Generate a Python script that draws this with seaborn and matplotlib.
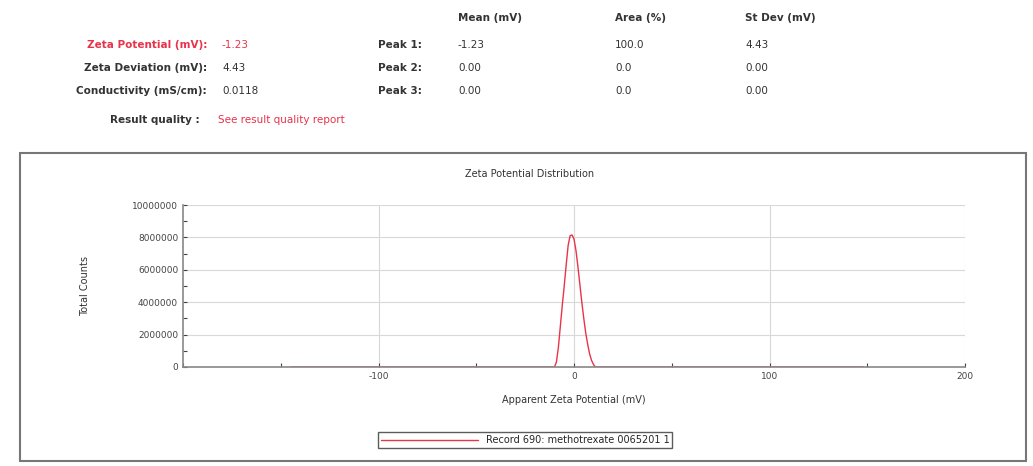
import numpy as np
import pandas as pd
import matplotlib
matplotlib.use("Agg")
import matplotlib.pyplot as plt
from matplotlib.patches import Rectangle
from matplotlib.ticker import MultipleLocator
import seaborn as sns

# zeta potential distribution (mV vs total counts)
zeta_mv = [-145, -11, -10, -9, -8, -7, -6, -5, -4, -3, -2, -1, 0, 1, 2, 3,
           4, 5, 6, 7, 8, 9, 10, 11, 12, 148]
counts = [0, 0, 0, 300000, 1200000, 2500000, 3800000, 5000000, 6300000,
          7500000, 8100000, 8150000, 7900000, 7200000, 6200000, 5100000,
          4000000, 3000000, 2100000, 1400000, 800000, 400000, 150000, 0, 0, 0]
record_name = "Record 690: methotrexate 0065201 1"

summary_labels = ["Zeta Potential (mV):", "Zeta Deviation (mV):", "Conductivity (mS/cm):"]
summary_values = ["-1.23", "4.43", "0.0118"]
peak_labels = ["Peak 1:", "Peak 2:", "Peak 3:"]
peak_cols = ["Mean (mV)", "Area (%)", "St Dev (mV)"]
peak_mean = ["-1.23", "0.00", "0.00"]
peak_area = ["100.0", "0.0", "0.0"]
peak_sd = ["4.43", "0.00", "0.00"]

sns.set_theme(style="whitegrid")
plt.rcParams["font.family"] = ["DejaVu Sans"]
plt.rcParams["axes.unicode_minus"] = False

red = "#e8334a"
W, H = 1033, 466
fig = plt.figure(figsize=(W / 100, H / 100), dpi=100, facecolor="white")

def fx(px):
    return px / W

def fy(py):
    return 1 - py / H

# header block
fs = 7.5
for i, (lab, val) in enumerate(zip(summary_labels, summary_values)):
    c = red if i == 0 else "#333333"
    y = fy(45 + 23 * i)
    fig.text(fx(207), y, lab, ha="right", va="center", fontsize=fs, color=c, weight="bold")
    fig.text(fx(222), y, val, ha="left", va="center", fontsize=fs, color=c)

fig.text(fx(200), fy(120), "Result quality :", ha="right", va="center", fontsize=fs,
         color="#333333", weight="bold")
fig.text(fx(218), fy(120), "See result quality report", ha="left", va="center",
         fontsize=fs, color=red)

col_x = [458, 615, 745]
for cx, name in zip(col_x, peak_cols):
    fig.text(fx(cx), fy(18), name, ha="left", va="center", fontsize=fs,
             color="#333333", weight="bold")
for i, lab in enumerate(peak_labels):
    y = fy(45 + 23 * i)
    fig.text(fx(378), y, lab, ha="left", va="center", fontsize=fs, color="#333333", weight="bold")
    for cx, v in zip(col_x, [peak_mean[i], peak_area[i], peak_sd[i]]):
        fig.text(fx(cx), y, v, ha="left", va="center", fontsize=fs, color="#333333")

# chart frame
fig.patches.append(Rectangle((fx(20), fy(461)), fx(1006), 308 / H,
                             transform=fig.transFigure, fill=False,
                             edgecolor="#777777", linewidth=1.5))
fig.text(fx(530), fy(174), "Zeta Potential Distribution", ha="center", va="center",
         fontsize=7, color="#333333")

ax = fig.add_axes([fx(183), fy(367), fx(965 - 183), (367 - 205) / H])
df = pd.DataFrame({"zeta": zeta_mv, "counts": counts})
sns.lineplot(data=df, x="zeta", y="counts", color=red, linewidth=1.0,
             label=record_name, ax=ax, legend=False)

ax.set_xlim(-200, 200)
ax.set_ylim(0, 10000000)
ax.set_xticks([-100, 0, 100, 200])
ax.set_yticks([0, 2000000, 4000000, 6000000, 8000000, 10000000])
ax.set_yticklabels(["0", "2000000", "4000000", "6000000", "8000000", "10000000"])
ax.xaxis.set_minor_locator(MultipleLocator(50))
ax.yaxis.set_minor_locator(MultipleLocator(1000000))
ax.grid(True, which="major", color="#d8d8d8", linewidth=0.8)
ax.tick_params(axis="both", which="both", direction="in", length=3, width=0.8,
               colors="#444444", labelsize=6.5, bottom=True, left=True)
for side in ["top", "right"]:
    ax.spines[side].set_visible(False)
for side in ["left", "bottom"]:
    ax.spines[side].set_color("#888888")
    ax.spines[side].set_linewidth(1.2)
ax.set_facecolor("white")

ax.set_xlabel("Apparent Zeta Potential (mV)", fontsize=7, color="#333333", labelpad=10)
ax.set_ylabel("Total Counts", fontsize=7, color="#333333", labelpad=30)

handles, labels = ax.get_legend_handles_labels()
leg = fig.legend(handles, labels, loc="center", bbox_to_anchor=(fx(525), fy(440)),
                 fontsize=7, frameon=True, fancybox=False, handlelength=10,
                 borderpad=0.3)
leg.get_frame().set_edgecolor("#333333")
leg.get_frame().set_linewidth(1.0)

fig.savefig("out.png", dpi=100, facecolor="white")
